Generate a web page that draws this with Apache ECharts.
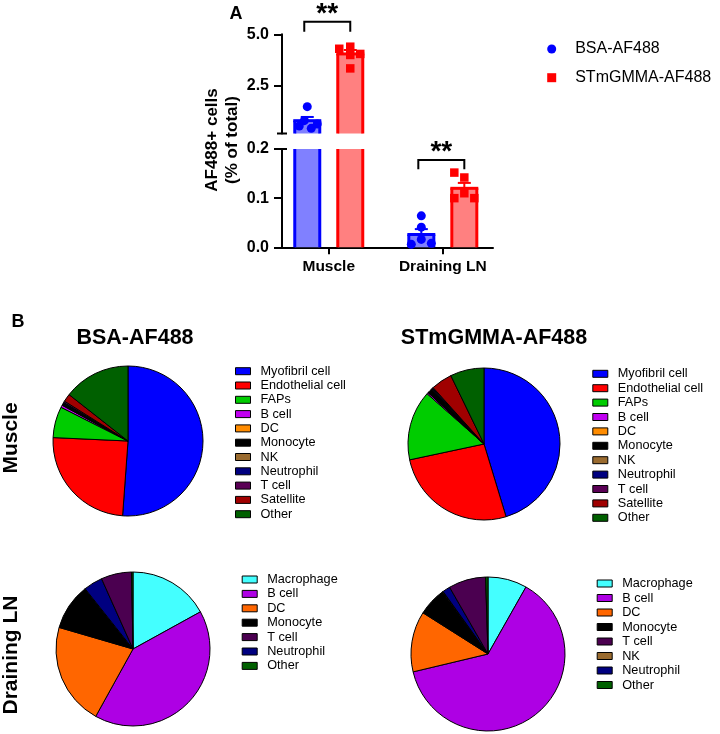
<!DOCTYPE html>
<html><head><meta charset="utf-8">
<script src="https://cdn.jsdelivr.net/npm/echarts@6/dist/echarts.min.js"></script>
<style>html,body{margin:0;padding:0;background:#fff}#c{width:720px;height:734px}</style>
</head><body><div id="c"></div>
<script>
const FONT = '"Liberation Sans", Arial, Helvetica, sans-serif';

// ---------- Panel A data ----------
const barCategories = ['Muscle', 'Draining LN'];
const groupNames = ['BSA-AF488', 'STmGMMA-AF488'];
const bsaMean = [0.82, 0.026];
const bsaSem = [0.18, 0.011];
const stmMean = [4.05, 0.12];
const stmSem = [0.19, 0.011];
const bsaPointsMuscle = [1.5, 0.82, 0.66, 0.56, 0.45];
const bsaPointsLN = [0.064, 0.041, 0.016, 0.006, 0.008];
const stmPointsMuscle = [4.4, 4.3, 4.05, 4.0, 3.35];
const stmPointsLN = [0.152, 0.142, 0.110, 0.100, 0.100];
const upperTickValues = [2.5, 5.0];
const upperLabelValues = [2.5, 5.0];
const breakLow = 0.2;   // top of lower segment / bottom of upper segment

// ---------- Panel B data ----------
const muscleCells = ['Myofibril cell', 'Endothelial cell', 'FAPs', 'B cell', 'DC', 'Monocyte', 'NK', 'Neutrophil', 'T cell', 'Satellite', 'Other'];
const bsaMuscle = [51.2, 24.6, 6.7, 0.5, 0.1, 0.3, 0.1, 0.2, 0.3, 1.7, 14.4];
const stmMuscle = [45.4, 26.4, 14.9, 0.3, 0.05, 1.0, 0.05, 0.2, 0.2, 4.5, 7.2];

const lnCellsBsa = ['Macrophage', 'B cell', 'DC', 'Monocyte', 'Neutrophil', 'T cell', 'Other'];
const bsaLN = [17.0, 41.1, 21.5, 9.8, 4.0, 6.4, 0.3];
const lnLegendBsa = ['Macrophage', 'B cell', 'DC', 'Monocyte', 'T cell', 'Neutrophil', 'Other'];

const lnCellsStm = ['Macrophage', 'B cell', 'DC', 'Monocyte', 'NK', 'Neutrophil', 'T cell', 'Other'];
const stmLN = [8.2, 63.0, 12.7, 6.0, 0.1, 1.6, 7.8, 0.5];
const lnLegendStm = ['Macrophage', 'B cell', 'DC', 'Monocyte', 'T cell', 'NK', 'Neutrophil', 'Other'];

// ---------- styles ----------
const muscleColors = {
  'Myofibril cell': '#0000FF', 'Endothelial cell': '#FF0000', 'FAPs': '#00CC00', 'B cell': '#C000F0',
  'DC': '#FF8C00', 'Monocyte': '#000000', 'NK': '#9A6B2F', 'Neutrophil': '#000080', 'T cell': '#5A0055',
  'Satellite': '#A00000', 'Other': '#006000'
};
const lnColors = {
  'Macrophage': '#44FFFF', 'B cell': '#AE00E4', 'DC': '#FF6600', 'Monocyte': '#000000', 'T cell': '#4B0050',
  'NK': '#9A6B2F', 'Neutrophil': '#000080', 'Other': '#006000'
};
const BLUE = '#0000FF', BLUE_FILL = '#8080FF', RED = '#FF0000', RED_FILL = '#FF8080';
const SHIFT = 21.5;           // px offset of each group bar from category centre
const bsaJitMuscle = [0, -3, 10, -8, 4];
const bsaJitLN = [0, 0, 0, -10, 10];
const stmJitMuscle = [0, -11, 10, 0, 0];
const stmJitLN = [-10, 0, 0, -10, 10];

const chart = echarts.init(document.getElementById('c'), null, { renderer: 'canvas' });

function barRender(stroke, fill, shift) {
  return function (params, api) {
    const cs = params.coordSys;
    const cat = api.value(0), mean = api.value(1), sem = api.value(2);
    const base = api.coord([cat, 0]);
    const cx = base[0] + shift;
    const top = api.coord([cat, mean])[1];
    const errTop = api.coord([cat, mean + sem])[1];
    const yMin = cs.y, yMax = cs.y + cs.height;
    const t = Math.max(top, yMin);
    const b = Math.min(base[1], yMax);
    if (b <= t) return { type: 'group', children: [] };
    const hw = 12.5, lw = 3;
    const ch = [];
    ch.push({ type: 'rect', shape: { x: cx - hw, y: t, width: 2 * hw, height: b - t }, style: { fill: fill } });
    ch.push({ type: 'line', shape: { x1: cx - hw, y1: t, x2: cx - hw, y2: b }, style: { stroke: stroke, lineWidth: lw } });
    ch.push({ type: 'line', shape: { x1: cx + hw, y1: t, x2: cx + hw, y2: b }, style: { stroke: stroke, lineWidth: lw } });
    if (top >= yMin) {
      ch.push({ type: 'line', shape: { x1: cx - hw - lw / 2, y1: top, x2: cx + hw + lw / 2, y2: top }, style: { stroke: stroke, lineWidth: lw } });
      if (errTop >= yMin) {
        ch.push({ type: 'line', shape: { x1: cx, y1: top, x2: cx, y2: errTop }, style: { stroke: stroke, lineWidth: 2 } });
        ch.push({ type: 'line', shape: { x1: cx - 6.5, y1: errTop, x2: cx + 6.5, y2: errTop }, style: { stroke: stroke, lineWidth: 2 } });
      }
    }
    return { type: 'group', children: ch };
  };
}

function barData(means, sems) { return means.map((m, i) => [i, m, sems[i]]); }
function pointData(ptsByCat, jitByCat, shift) {
  const out = [];
  ptsByCat.forEach((pts, ci) => pts.forEach((v, k) => out.push({ value: [ci, v], symbolOffset: [shift + jitByCat[ci][k], 0] })));
  return out;
}

const axisLineStyle = { color: '#000', width: 2 };
const yLabel = { color: '#000', fontWeight: 'bold', fontSize: 16, fontFamily: FONT, margin: 13, formatter: v => Number(v).toFixed(1) };

const series = [];
[0, 1].forEach(g => {
  series.push({ type: 'custom', name: 'bsa-bar-' + g, xAxisIndex: g, yAxisIndex: g, clip: false, silent: true,
    renderItem: barRender(BLUE, BLUE_FILL, -SHIFT), encode: { x: 0, y: 1 }, data: barData(bsaMean, bsaSem), z: 2 });
  series.push({ type: 'custom', name: 'stm-bar-' + g, xAxisIndex: g, yAxisIndex: g, clip: false, silent: true,
    renderItem: barRender(RED, RED_FILL, SHIFT), encode: { x: 0, y: 1 }, data: barData(stmMean, stmSem), z: 2 });
});
[0, 1].forEach(g => {
  series.push({ type: 'scatter', name: groupNames[0], xAxisIndex: g, yAxisIndex: g, clip: true, silent: true,
    symbol: 'circle', symbolSize: 9, itemStyle: { color: BLUE, opacity: 1 }, z: 3,
    data: pointData([bsaPointsMuscle, bsaPointsLN], [bsaJitMuscle, bsaJitLN], -SHIFT) });
  series.push({ type: 'scatter', name: groupNames[1], xAxisIndex: g, yAxisIndex: g, clip: true, silent: true,
    symbol: 'rect', symbolSize: 8.5, itemStyle: { color: RED, opacity: 1 }, z: 3,
    data: pointData([stmPointsMuscle, stmPointsLN], [stmJitMuscle, stmJitLN], SHIFT) });
});

function pieSeries(name, cells, values, colors, center, radius) {
  return {
    type: 'pie', name: name, center: center, radius: radius, startAngle: 90, clockwise: true,
    silent: true, animation: false, avoidLabelOverlap: false,
    label: { show: false }, labelLine: { show: false }, emphasis: { disabled: true },
    itemStyle: { borderColor: '#000', borderWidth: 1 },
    data: cells.map((c, i) => ({ name: c, value: values[i], itemStyle: { color: colors[c] } }))
  };
}
series.push(pieSeries('BSA Muscle', muscleCells, bsaMuscle, muscleColors, [128, 441], 75));
series.push(pieSeries('STm Muscle', muscleCells, stmMuscle, muscleColors, [484, 444], 76));
series.push(pieSeries('BSA LN', lnCellsBsa, bsaLN, lnColors, [133, 649], 77));
series.push(pieSeries('STm LN', lnCellsStm, stmLN, lnColors, [488, 654], 77));

function pieLegend(names, colors, left, top, gap) {
  return {
    orient: 'vertical', left: left, top: top, padding: 0, itemWidth: 15, itemHeight: 7, itemGap: gap,
    icon: 'rect', selectedMode: false, inactiveColor: '#000',
    itemStyle: { borderColor: '#000', borderWidth: 1 },
    textStyle: { color: '#000', fontSize: 12.7, fontFamily: FONT, lineHeight: 13, padding: [0, 0, 0, 5] },
    data: names.map(n => ({ name: n, itemStyle: { color: colors[n], borderColor: '#000', borderWidth: 1 } }))
  };
}

const bold = (size) => ({ fontWeight: 'bold', fontSize: size, fontFamily: FONT, fill: '#000' });

const option = {
  animation: false,
  backgroundColor: '#fff',
  grid: [
    { left: 282, right: 227, top: 34.3, height: 99.2 },
    { left: 282, right: 227, top: 149, height: 98.3 }
  ],
  xAxis: [
    { gridIndex: 0, type: 'value', min: -0.41, max: 1.44, show: false },
    { gridIndex: 1, type: 'value', min: -0.41, max: 1.44,
      axisLine: { show: true, onZero: false, lineStyle: axisLineStyle },
      axisTick: { show: true, customValues: [0, 1], length: 7, lineStyle: axisLineStyle },
      axisLabel: { customValues: [0, 1], formatter: v => barCategories[Math.round(v)], color: '#000', fontWeight: 'bold', fontSize: 15.5, fontFamily: FONT, margin: 11 },
      splitLine: { show: false } }
  ],
  yAxis: [
    { gridIndex: 0, type: 'value', min: breakLow, max: 5,
      axisLine: { show: true, onZero: false, lineStyle: axisLineStyle },
      axisTick: { show: true, customValues: upperTickValues, length: 8, lineStyle: axisLineStyle },
      axisLabel: Object.assign({ customValues: upperLabelValues }, yLabel),
      splitLine: { show: false } },
    { gridIndex: 1, type: 'value', min: 0, max: breakLow, interval: 0.1,
      axisLine: { show: true, onZero: false, lineStyle: axisLineStyle },
      axisTick: { show: true, length: 8, lineStyle: axisLineStyle },
      axisLabel: yLabel,
      splitLine: { show: false } }
  ],
  legend: [
    { orient: 'vertical', left: 547.2, top: 41, padding: 0, itemWidth: 9, itemHeight: 9, itemGap: 12.7, selectedMode: false,
      textStyle: { color: '#000', fontSize: 16, fontFamily: FONT, padding: [0, 0, 0, 14] },
      data: [
        { name: groupNames[0], icon: 'circle', itemStyle: { color: BLUE } },
        { name: groupNames[1], icon: 'rect', itemStyle: { color: RED } }
      ] },
    pieLegend(muscleCells, muscleColors, 235, 364.7, 1.3),
    pieLegend(muscleCells, muscleColors, 592.3, 367.3, 1.4),
    pieLegend(lnLegendBsa, lnColors, 241.7, 573, 1.4),
    pieLegend(lnLegendStm, lnColors, 596.7, 577, 1.5)
  ],
  series: series,
  graphic: [
    { type: 'text', x: 236, y: 14, style: Object.assign({ text: 'A', align: 'center', verticalAlign: 'middle' }, bold(18)) },
    { type: 'text', x: 18, y: 322, style: Object.assign({ text: 'B', align: 'center', verticalAlign: 'middle' }, bold(18)) },
    { type: 'text', x: 135, y: 338, style: Object.assign({ text: groupNames[0], align: 'center', verticalAlign: 'middle' }, bold(21.5)) },
    { type: 'text', x: 494, y: 338, style: Object.assign({ text: groupNames[1], align: 'center', verticalAlign: 'middle' }, bold(21.5)) },
    { type: 'text', x: 11, y: 438, rotation: Math.PI / 2, style: Object.assign({ text: barCategories[0], align: 'center', verticalAlign: 'middle' }, bold(21)) },
    { type: 'text', x: 11, y: 655, rotation: Math.PI / 2, style: Object.assign({ text: barCategories[1], align: 'center', verticalAlign: 'middle' }, bold(21)) },
    { type: 'text', x: 222, y: 140, rotation: Math.PI / 2, style: Object.assign({ text: 'AF488+ cells\n(% of total)', align: 'center', verticalAlign: 'middle', lineHeight: 20 }, bold(17)) }
  ]
};
chart.setOption(option);

// significance brackets and axis-break caps, anchored to the axes
const c0 = chart.convertToPixel({ xAxisIndex: 1, yAxisIndex: 1 }, [0, 0])[0];
const c1 = chart.convertToPixel({ xAxisIndex: 1, yAxisIndex: 1 }, [1, 0])[0];
const axisX = chart.convertToPixel({ xAxisIndex: 1, yAxisIndex: 1 }, [-0.41, 0])[0];
const yBreakUpper = chart.convertToPixel({ xAxisIndex: 0, yAxisIndex: 0 }, [0, breakLow])[1];
const yBreakLower = chart.convertToPixel({ xAxisIndex: 1, yAxisIndex: 1 }, [0, breakLow])[1];
function bracket(cx, yTop, yBot, starY) {
  const l = cx - SHIFT - 3, r = cx + SHIFT;
  return [
    { type: 'polyline', shape: { points: [[l, yBot], [l, yTop], [r, yTop], [r, yBot]] }, style: { stroke: '#000', lineWidth: 2, fill: null } },
    { type: 'text', x: (l + r) / 2, y: starY, style: Object.assign({ text: '**', align: 'center', verticalAlign: 'middle' }, bold(28)) }
  ];
}
const caps = [
  { type: 'line', shape: { x1: axisX - 5, y1: yBreakUpper, x2: axisX + 5, y2: yBreakUpper }, style: { stroke: '#000', lineWidth: 2 } },
  { type: 'line', shape: { x1: axisX, y1: yBreakLower, x2: axisX + 5, y2: yBreakLower }, style: { stroke: '#000', lineWidth: 2 } }
];
chart.setOption({ graphic: option.graphic.concat(bracket(c0, 21.7, 31.7, 14.5), bracket(c1, 160, 169.3, 152), caps) });
</script>
</body></html>
